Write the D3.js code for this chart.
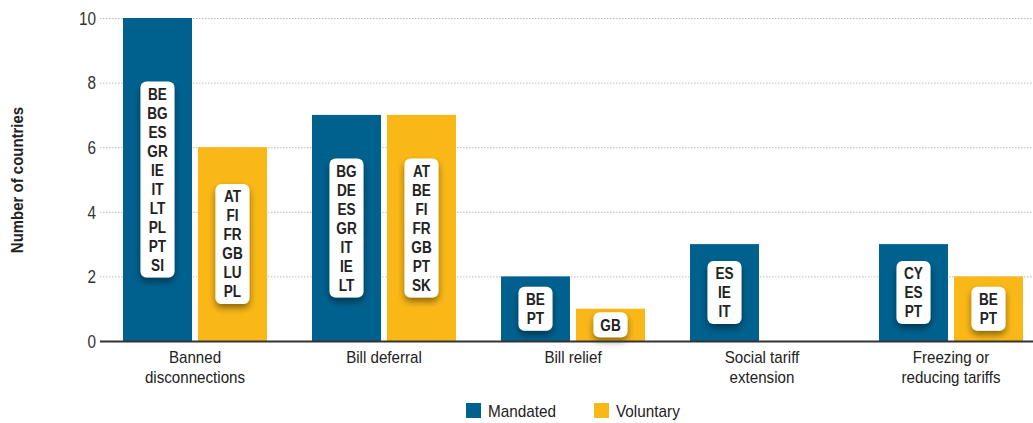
<!DOCTYPE html>
<html><head><meta charset="utf-8">
<script src="https://cdn.jsdelivr.net/npm/d3@7"></script>
<style>
body{margin:0;background:#fff;}
svg{display:block;}
.narrow{font-family:"Liberation Sans","Arial",sans-serif;}
</style></head><body>
<svg id="c" width="1033" height="423"></svg>
<script>
const categories = ["Banned\ndisconnections","Bill deferral","Bill relief","Social tariff\nextension","Freezing or\nreducing tariffs"];
const seriesNames = ["Mandated","Voluntary"];
const mandated = [10,7,2,3,3];
const voluntary = [6,7,1,0,2];
const mandatedCountries = [["BE","BG","ES","GR","IE","IT","LT","PL","PT","SI"],["BG","DE","ES","GR","IT","IE","LT"],["BE","PT"],["ES","IE","IT"],["CY","ES","PT"]];
const voluntaryCountries = [["AT","FI","FR","GB","LU","PL"],["AT","BE","FI","FR","GB","PT","SK"],["GB"],[],["BE","PT"]];
const yTicks = [0,2,4,6,8,10];
const colors = ["#00618f","#fab818"];

const svg = d3.select("#c");
const defs = svg.append("defs");
const f = defs.append("filter").attr("id","sh").attr("x","-50%").attr("y","-50%").attr("width","200%").attr("height","200%");
f.append("feDropShadow").attr("dx",0).attr("dy",4).attr("stdDeviation",3.5).attr("flood-color","#000").attr("flood-opacity",0.45);

function narrow(sel, k){
  sel.each(function(){
    const L = this.getComputedTextLength();
    d3.select(this).attr("textLength", L*k).attr("lengthAdjust","spacingAndGlyphs");
  });
}

const x0 = d3.scaleBand().domain(categories).range([100.5,1045.5]).paddingInner(0).paddingOuter(0);
const x1 = d3.scaleBand().domain(seriesNames).range([22.5,166.5]).paddingInner(6/75).paddingOuter(0);
const y = d3.scaleLinear().domain([0,10]).range([341,18]);

// gridlines
svg.append("g").selectAll("line").data(yTicks.filter(t=>t>0)).join("line")
  .attr("x1",100).attr("x2",1033).attr("y1",d=>y(d)+0.5).attr("y2",d=>y(d)+0.5)
  .attr("stroke","#bbb").attr("stroke-width",1).attr("stroke-dasharray","1.5,1.5");

// y axis labels
const yAxis = d3.axisLeft(y).tickValues(yTicks).tickSize(0).tickPadding(0);
const ga = svg.append("g").attr("transform","translate(96,0)").call(yAxis);
ga.select(".domain").remove();
ga.selectAll("text").attr("class","narrow").attr("font-size",18).attr("fill","#333").attr("dy","0.35em");
narrow(ga.selectAll("text"),0.85);

const yt = svg.append("text").attr("transform","translate(23,180) rotate(-90)").attr("text-anchor","middle")
  .attr("class","narrow").attr("font-weight","bold").attr("font-size",17).attr("fill","#222")
  .text("Number of countries");
narrow(yt,0.88);

// bars
const data = categories.map((c,i)=>({c, vals:[
  {s:"Mandated",v:mandated[i],list:mandatedCountries[i],col:colors[0]},
  {s:"Voluntary",v:voluntary[i],list:voluntaryCountries[i],col:colors[1]}]}));
const groups = svg.append("g").selectAll("g").data(data).join("g").attr("transform",d=>`translate(${x0(d.c)},0)`);
groups.selectAll("rect.bar").data(d=>d.vals.filter(v=>v.v>0)).join("rect").attr("class","bar")
  .attr("x",d=>x1(d.s)).attr("width",x1.bandwidth()).attr("y",d=>y(d.v)).attr("height",d=>y(0)-y(d.v)).attr("fill",d=>d.col);

// baseline
svg.append("line").attr("x1",100).attr("x2",1033).attr("y1",341.5).attr("y2",341.5).attr("stroke","#333").attr("stroke-width",2);

// label boxes
const lh = 19;
groups.each(function(d){
  const g = d3.select(this);
  d.vals.filter(v=>v.v>0 && v.list.length).forEach(v=>{
    const n = v.list.length;
    const h = lh*n+6, w = 34;
    const cx = x1(v.s)+x1.bandwidth()/2;
    const cy = (y(v.v)+y(0))/2;
    g.append("rect").attr("x",cx-w/2).attr("y",cy-h/2).attr("width",w).attr("height",h).attr("rx",6)
      .attr("fill","#fff").attr("filter","url(#sh)");
    const t = g.append("text").attr("text-anchor","middle").attr("class","narrow")
      .attr("font-weight","bold").attr("font-size",16).attr("fill","#222");
    v.list.forEach((s,k)=>t.append("tspan").attr("x",cx).attr("y",cy-h/2+3+lh*k+lh/2).attr("dy","0.36em").text(s));
    narrow(t.selectAll("tspan"),0.85);
  });
});

// category labels
const xl = svg.append("g");
categories.forEach(c=>{
  const t = xl.append("text").attr("class","narrow").attr("text-anchor","middle").attr("font-size",17).attr("fill","#222");
  c.split("\n").forEach((s,k)=>t.append("tspan").attr("x",x0(c)+x0.bandwidth()/2).attr("y",363+k*20).text(s));
  narrow(t.selectAll("tspan"),0.89);
});

// legend
const leg = svg.append("g");
[[466,"Mandated",colors[0]],[594,"Voluntary",colors[1]]].forEach(([lx,name,col])=>{
  leg.append("rect").attr("x",lx).attr("y",403).attr("width",15).attr("height",15).attr("fill",col);
  const t = leg.append("text").attr("class","narrow").attr("x",lx+22).attr("y",417).attr("font-size",17).attr("fill","#222").text(name);
  narrow(t,0.9);
});
</script></body></html>
